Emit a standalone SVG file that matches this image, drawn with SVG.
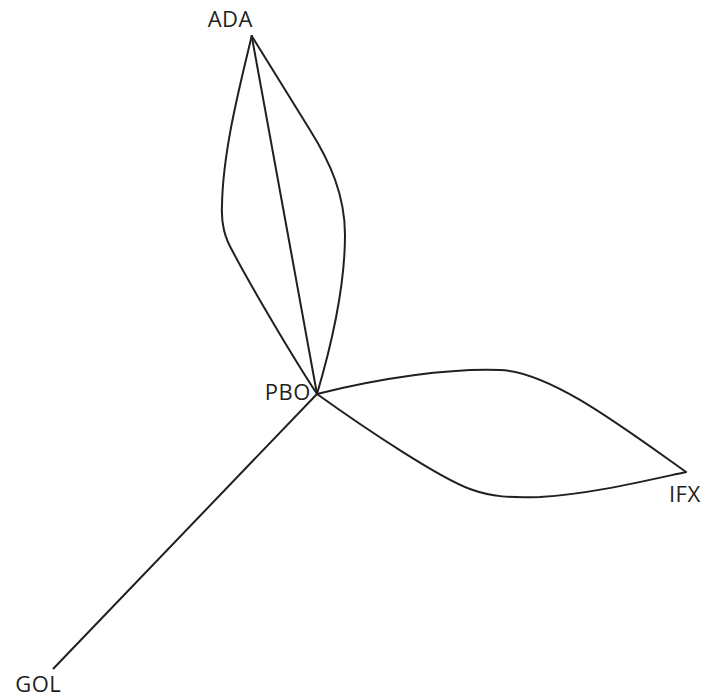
<svg xmlns="http://www.w3.org/2000/svg" width="703" height="698" viewBox="0 0 703 698">
<style>
.e{fill:none;stroke:#231f20;stroke-width:2;stroke-linejoin:round;stroke-linecap:round}
.t{font-family:"Open Sans","Noto Sans",sans-serif;font-size:22px;letter-spacing:0.5px;fill:#231f20;text-anchor:middle}
</style>
<rect width="703" height="698" fill="#ffffff"/>
<g id="connectors">
<path class="e" d="M251.7,36 L317,394"/>
<path class="e" d="M251.7,36 C240,85 223,150 222,205 C221,225 225,238 233,252 C245,275 285,345 317,394"/>
<path class="e" d="M251.7,36 L310,130 C330,162 345,195 345,235 C345,290 330,350 317,394"/>
<path class="e" d="M317,394 C380,378 450,368 500,370 C550,372 620,425 686,472"/>
<path class="e" d="M317,394 C370,432 440,478 470,489 C492,497 510,498 540,497 C590,494 640,482 686,472"/>
<path class="e" d="M317,394 L53.5,668.5"/>
</g>
<g id="ADA"><text class="t" x="230.3" y="27">ADA</text></g>
<g id="PBO"><text class="t" x="287.8" y="399.5">PBO</text></g>
<g id="IFX"><text class="t" x="684.8" y="502">IFX</text></g>
<g id="GOL"><text class="t" x="38.3" y="692">GOL</text></g>
</svg>
